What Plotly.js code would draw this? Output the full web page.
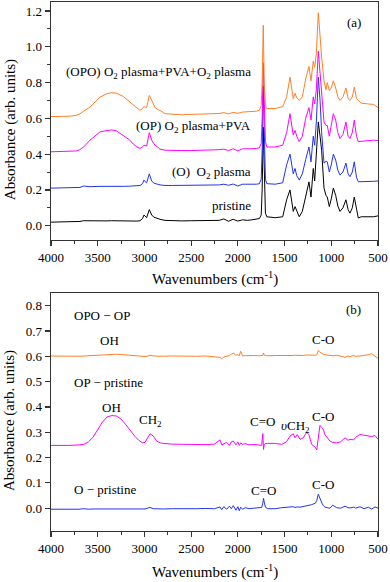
<!DOCTYPE html>
<html>
<head>
<meta charset="utf-8">
<script src="https://cdn.plot.ly/plotly-3.0.1.min.js"></script>
<style>
  html, body { margin: 0; padding: 0; background: #ffffff; }
  #spectra-graph { width: 390px; height: 582px; }
</style>
</head>
<body>
<div id="spectra-graph"></div>
<script>
// panel (a): absorbance spectra, all sampled on the same wavenumbers
var topWavenumbers = [4000, 3900, 3800, 3725, 3690, 3650, 3583, 3476, 3400, 3350, 3300, 3226, 3160, 3119, 3080, 3047, 3020, 3005, 2990, 2976, 2948, 2935, 2922, 2900, 2887, 2860, 2833, 2780, 2700, 2600, 2500, 2400, 2300, 2200, 2150, 2100, 2050, 2000, 1950, 1900, 1850, 1800, 1770, 1750, 1740, 1728, 1718, 1705, 1690, 1600, 1520, 1478, 1442, 1420, 1407, 1388, 1370, 1343, 1310, 1274, 1239, 1217, 1193, 1178, 1160, 1139, 1120, 1103, 1078, 1057, 1043, 1021, 1000, 978, 953, 930, 907, 875, 843, 820, 800, 775, 754, 730, 711, 680, 600, 550, 500];

var pristineValues = [0.02, 0.022, 0.02, 0.025, 0.024, 0.028, 0.027, 0.028, 0.027, 0.028, 0.027, 0.028, 0.027, 0.027, 0.026, 0.028, 0.04, 0.06, 0.05, 0.045, 0.09, 0.07, 0.06, 0.048, 0.045, 0.04, 0.036, 0.03, 0.028, 0.027, 0.028, 0.03, 0.03, 0.03, 0.038, 0.025, 0.036, 0.026, 0.033, 0.03, 0.033, 0.035, 0.04, 0.06, 0.2, 0.55, 0.25, 0.07, 0.05, 0.045, 0.05, 0.145, 0.2, 0.12, 0.08, 0.107, 0.08, 0.05, 0.08, 0.17, 0.245, 0.16, 0.32, 0.25, 0.38, 0.58, 0.5, 0.42, 0.21, 0.17, 0.16, 0.107, 0.15, 0.21, 0.17, 0.11, 0.08, 0.1, 0.145, 0.09, 0.07, 0.1, 0.16, 0.08, 0.043, 0.05, 0.048, 0.05, 0.055];

var oxygenValues = [0.21, 0.212, 0.213, 0.215, 0.214, 0.222, 0.218, 0.22, 0.219, 0.22, 0.22, 0.22, 0.221, 0.221, 0.222, 0.225, 0.235, 0.255, 0.245, 0.24, 0.29, 0.265, 0.25, 0.238, 0.235, 0.232, 0.228, 0.225, 0.225, 0.225, 0.226, 0.227, 0.228, 0.228, 0.232, 0.226, 0.233, 0.222, 0.232, 0.23, 0.232, 0.232, 0.235, 0.26, 0.42, 0.78, 0.45, 0.26, 0.235, 0.232, 0.24, 0.34, 0.4, 0.33, 0.29, 0.32, 0.28, 0.255, 0.29, 0.37, 0.44, 0.357, 0.5, 0.45, 0.58, 0.83, 0.7, 0.52, 0.35, 0.36, 0.357, 0.3, 0.34, 0.4, 0.367, 0.31, 0.283, 0.3, 0.35, 0.29, 0.274, 0.3, 0.357, 0.27, 0.246, 0.246, 0.245, 0.248, 0.25];

var oxygenPvaValues = [0.413, 0.414, 0.415, 0.418, 0.425, 0.44, 0.478, 0.524, 0.532, 0.535, 0.53, 0.506, 0.48, 0.456, 0.44, 0.432, 0.44, 0.45, 0.445, 0.445, 0.52, 0.49, 0.478, 0.46, 0.45, 0.44, 0.428, 0.422, 0.42, 0.42, 0.42, 0.421, 0.422, 0.425, 0.428, 0.42, 0.43, 0.418, 0.43, 0.428, 0.43, 0.432, 0.435, 0.46, 0.6, 0.91, 0.62, 0.47, 0.44, 0.44, 0.45, 0.52, 0.626, 0.54, 0.506, 0.533, 0.5, 0.47, 0.5, 0.6, 0.66, 0.59, 0.72, 0.68, 0.76, 0.975, 0.85, 0.74, 0.58, 0.56, 0.56, 0.5, 0.56, 0.626, 0.59, 0.52, 0.487, 0.51, 0.58, 0.5, 0.487, 0.52, 0.59, 0.5, 0.47, 0.472, 0.475, 0.478, 0.476];

var oxygenPvaOxygenValues = [0.61, 0.611, 0.612, 0.617, 0.625, 0.64, 0.663, 0.718, 0.738, 0.743, 0.741, 0.722, 0.692, 0.672, 0.655, 0.644, 0.655, 0.667, 0.66, 0.66, 0.728, 0.71, 0.7, 0.675, 0.66, 0.65, 0.644, 0.626, 0.622, 0.62, 0.622, 0.623, 0.625, 0.627, 0.632, 0.625, 0.633, 0.628, 0.635, 0.636, 0.638, 0.64, 0.645, 0.67, 0.8, 1.12, 0.8, 0.67, 0.655, 0.655, 0.665, 0.72, 0.83, 0.75, 0.71, 0.74, 0.715, 0.7, 0.72, 0.82, 0.89, 0.81, 0.92, 0.885, 0.96, 1.19, 1.05, 0.94, 0.81, 0.76, 0.8, 0.755, 0.77, 0.81, 0.77, 0.72, 0.7, 0.72, 0.77, 0.71, 0.7, 0.72, 0.774, 0.71, 0.7, 0.685, 0.68, 0.678, 0.66];

// panel (b): difference spectra
var bottomWavenumbers = [4000, 3900, 3800, 3700, 3650, 3600, 3550, 3500, 3450, 3400, 3350, 3300, 3250, 3200, 3150, 3100, 3060, 3020, 2994, 2960, 2940, 2905, 2869, 2830, 2798, 2700, 2600, 2500, 2441, 2350, 2250, 2191, 2173, 2150, 2120, 2090, 2070, 2049, 2020, 2000, 1985, 1970, 1950, 1920, 1880, 1830, 1780, 1745, 1733, 1725, 1718, 1705, 1680, 1600, 1531, 1480, 1442, 1407, 1388, 1364, 1335, 1300, 1264, 1239, 1210, 1170, 1156, 1139, 1121, 1100, 1085, 1067, 1043, 1014, 985, 942, 900, 853, 820, 800, 760, 740, 693, 650, 604, 568, 532, 500];

var opoMinusOpValues = [0.601, 0.6, 0.599, 0.6, 0.601, 0.602, 0.603, 0.605, 0.607, 0.608, 0.609, 0.608, 0.607, 0.605, 0.603, 0.602, 0.601, 0.6, 0.599, 0.601, 0.604, 0.601, 0.6, 0.6, 0.6, 0.601, 0.6, 0.601, 0.6, 0.601, 0.599, 0.596, 0.59, 0.597, 0.6, 0.603, 0.609, 0.612, 0.604, 0.606, 0.602, 0.62, 0.602, 0.603, 0.602, 0.603, 0.602, 0.604, 0.603, 0.613, 0.604, 0.603, 0.602, 0.603, 0.602, 0.603, 0.602, 0.603, 0.604, 0.603, 0.604, 0.603, 0.605, 0.604, 0.605, 0.604, 0.605, 0.623, 0.615, 0.61, 0.608, 0.606, 0.605, 0.603, 0.602, 0.604, 0.6, 0.596, 0.601, 0.599, 0.603, 0.6, 0.601, 0.603, 0.606, 0.61, 0.6, 0.592];

var opMinusPristineValues = [0.248, 0.247, 0.248, 0.25, 0.252, 0.262, 0.28, 0.31, 0.34, 0.36, 0.366, 0.364, 0.352, 0.33, 0.305, 0.283, 0.268, 0.258, 0.26, 0.285, 0.294, 0.285, 0.265, 0.258, 0.256, 0.253, 0.252, 0.251, 0.252, 0.251, 0.253, 0.27, 0.25, 0.255, 0.26, 0.248, 0.262, 0.265, 0.25, 0.262, 0.248, 0.258, 0.252, 0.255, 0.25, 0.252, 0.25, 0.248, 0.295, 0.232, 0.25, 0.255, 0.256, 0.256, 0.252, 0.262, 0.285, 0.294, 0.278, 0.291, 0.272, 0.278, 0.3, 0.29, 0.252, 0.24, 0.23, 0.29, 0.327, 0.318, 0.311, 0.29, 0.278, 0.265, 0.26, 0.258, 0.262, 0.278, 0.268, 0.272, 0.27, 0.28, 0.291, 0.288, 0.285, 0.283, 0.287, 0.272];

var oMinusPristineValues = [-0.004, -0.005, -0.003, -0.004, -0.002, -0.004, -0.003, -0.003, -0.004, -0.003, -0.004, -0.003, -0.004, -0.003, -0.004, -0.003, -0.003, -0.002, -0.003, 0.001, 0.003, -0.002, -0.003, -0.002, -0.003, -0.002, -0.003, -0.002, -0.002, -0.001, -0.002, 0.005, -0.006, 0.006, -0.004, 0.008, -0.002, 0.01, -0.008, 0.006, -0.01, 0.004, -0.004, 0.002, -0.002, 0, 0.002, 0.003, 0.02, 0.039, 0.025, 0.004, -0.002, -0.002, 0.002, 0.004, 0.003, 0.006, 0.003, 0.005, 0.004, 0.006, 0.01, 0.012, 0.014, 0.02, 0.03, 0.055, 0.035, 0.02, 0.01, 0.004, 0.002, 0, 0.012, 0.002, 0, 0.008, 0.002, 0.001, 0.004, 0, 0.006, -0.002, 0.004, -0.003, 0.005, 0];

var lineColors = {
  orange: "#ff7f27",
  magenta: "#ff00ff",
  blue: "#2233f0",
  black: "#000000",
};

var fontFamily = "'Liberation Serif', 'Times New Roman', serif";

function makeTrace(xValues, yValues, color, xAxisName, yAxisName) {
  return {
    x: xValues,
    y: yValues,
    type: "scatter",
    mode: "lines",
    line: { color: color, width: 1 },
    xaxis: xAxisName,
    yaxis: yAxisName,
    hoverinfo: "skip",
    showlegend: false,
  };
}

function makeXAxis(anchorName) {
  return {
    domain: [0, 1],
    anchor: anchorName,
    range: [4000, 500],
    dtick: 500,
    tick0: 500,
    ticks: "outside",
    ticklen: 5,
    tickwidth: 1.2,
    tickcolor: "#333333",
    minor: { dtick: 250, ticks: "outside", ticklen: 3, tickwidth: 1, tickcolor: "#333333" },
    showline: true,
    mirror: true,
    linecolor: "#333333",
    linewidth: 1.3,
    showgrid: false,
    zeroline: false,
    tickfont: { family: fontFamily, size: 13, color: "#000000" },
  };
}

function makeYAxis(anchorName, domain, range, dtick, minorDtick) {
  var axis = {
    domain: domain,
    anchor: anchorName,
    range: range,
    dtick: dtick,
    tick0: 0,
    tickformat: ".1f",
    ticks: "outside",
    ticklen: 5,
    tickwidth: 1.2,
    tickcolor: "#333333",
    showline: true,
    mirror: true,
    linecolor: "#333333",
    linewidth: 1.3,
    showgrid: false,
    zeroline: false,
    tickfont: { family: fontFamily, size: 13, color: "#000000" },
  };
  if (minorDtick) {
    axis.minor = { dtick: minorDtick, ticks: "outside", ticklen: 3, tickwidth: 1, tickcolor: "#333333" };
  }
  return axis;
}

function makeLabel(text, x, y, xRef, yRef, xAnchor) {
  return {
    text: text,
    x: x,
    y: y,
    xref: xRef,
    yref: yRef,
    xanchor: xAnchor,
    yanchor: "middle",
    showarrow: false,
    font: { family: fontFamily, size: 13, color: "#000000" },
  };
}

function makeTitle(text, x, y, angle) {
  return {
    text: text,
    x: x,
    y: y,
    xref: "paper",
    yref: "paper",
    xanchor: "center",
    yanchor: "middle",
    textangle: angle,
    showarrow: false,
    font: { family: fontFamily, size: 15, color: "#000000" },
  };
}

function plotGraphs() {
  var traces = [
    makeTrace(topWavenumbers, pristineValues, lineColors.black, "x", "y"),
    makeTrace(topWavenumbers, oxygenValues, lineColors.blue, "x", "y"),
    makeTrace(topWavenumbers, oxygenPvaValues, lineColors.magenta, "x", "y"),
    makeTrace(topWavenumbers, oxygenPvaOxygenValues, lineColors.orange, "x", "y"),
    makeTrace(bottomWavenumbers, oMinusPristineValues, lineColors.blue, "x2", "y2"),
    makeTrace(bottomWavenumbers, opMinusPristineValues, lineColors.magenta, "x2", "y2"),
    makeTrace(bottomWavenumbers, opoMinusOpValues, lineColors.orange, "x2", "y2"),
  ];

  var annotations = [
    makeLabel("(OPO) O<sub>2</sub> plasma+PVA+O<sub>2</sub> plasma", 1838, 0.856, "x", "y", "right"),
    makeLabel("(OP) O<sub>2</sub> plasma+PVA", 1838, 0.552, "x", "y", "right"),
    makeLabel("(O)  O<sub>2</sub> plasma", 1838, 0.298, "x", "y", "right"),
    makeLabel("pristine", 1838, 0.113, "x", "y", "right"),
    makeLabel("(a)", 757, 1.135, "x", "y", "center"),

    makeLabel("OPO − OP", 3775, 0.761, "x2", "y2", "left"),
    makeLabel("OH", 3369, 0.661, "x2", "y2", "center"),
    makeLabel("C-O", 1089, 0.668, "x2", "y2", "center"),
    makeLabel("OP − pristine", 3775, 0.495, "x2", "y2", "left"),
    makeLabel("OH", 3350, 0.399, "x2", "y2", "center"),
    makeLabel("CH<sub>2</sub>", 2930, 0.346, "x2", "y2", "center"),
    makeLabel("C=O", 1731, 0.341, "x2", "y2", "center"),
    makeLabel("<i>υ</i>CH<sub>2</sub>", 1378, 0.324, "x2", "y2", "center"),
    makeLabel("C-O", 1089, 0.361, "x2", "y2", "center"),
    makeLabel("O − pristine", 3775, 0.075, "x2", "y2", "left"),
    makeLabel("C=O", 1724, 0.068, "x2", "y2", "center"),
    makeLabel("C-O", 1089, 0.092, "x2", "y2", "center"),
    makeLabel("(b)", 757, 0.786, "x2", "y2", "center"),

    makeTitle("Absorbance (arb. units)", -0.125, 0.758, -90),
    makeTitle("Absorbance (arb. units)", -0.125, 0.208, -90),
    makeTitle("Wavenumbers (cm<sup>-1</sup>)", 0.5, 0.4764, 0),
    makeTitle("Wavenumbers (cm<sup>-1</sup>)", 0.5, -0.0775, 0),
  ];

  var layout = {
    width: 390,
    height: 582,
    margin: { l: 51, r: 12, t: 2, b: 51 },
    paper_bgcolor: "#ffffff",
    plot_bgcolor: "#ffffff",
    showlegend: false,
    xaxis: makeXAxis("y"),
    yaxis: makeYAxis("x", [0.55, 1], [-0.08, 1.25], 0.2, 0.1),
    xaxis2: makeXAxis("y2"),
    yaxis2: makeYAxis("x2", [0, 0.45], [-0.09, 0.85], 0.1, null),
    annotations: annotations,
  };

  Plotly.newPlot("spectra-graph", traces, layout, { staticPlot: true, displayModeBar: false });
}

plotGraphs();
</script>
</body>
</html>
